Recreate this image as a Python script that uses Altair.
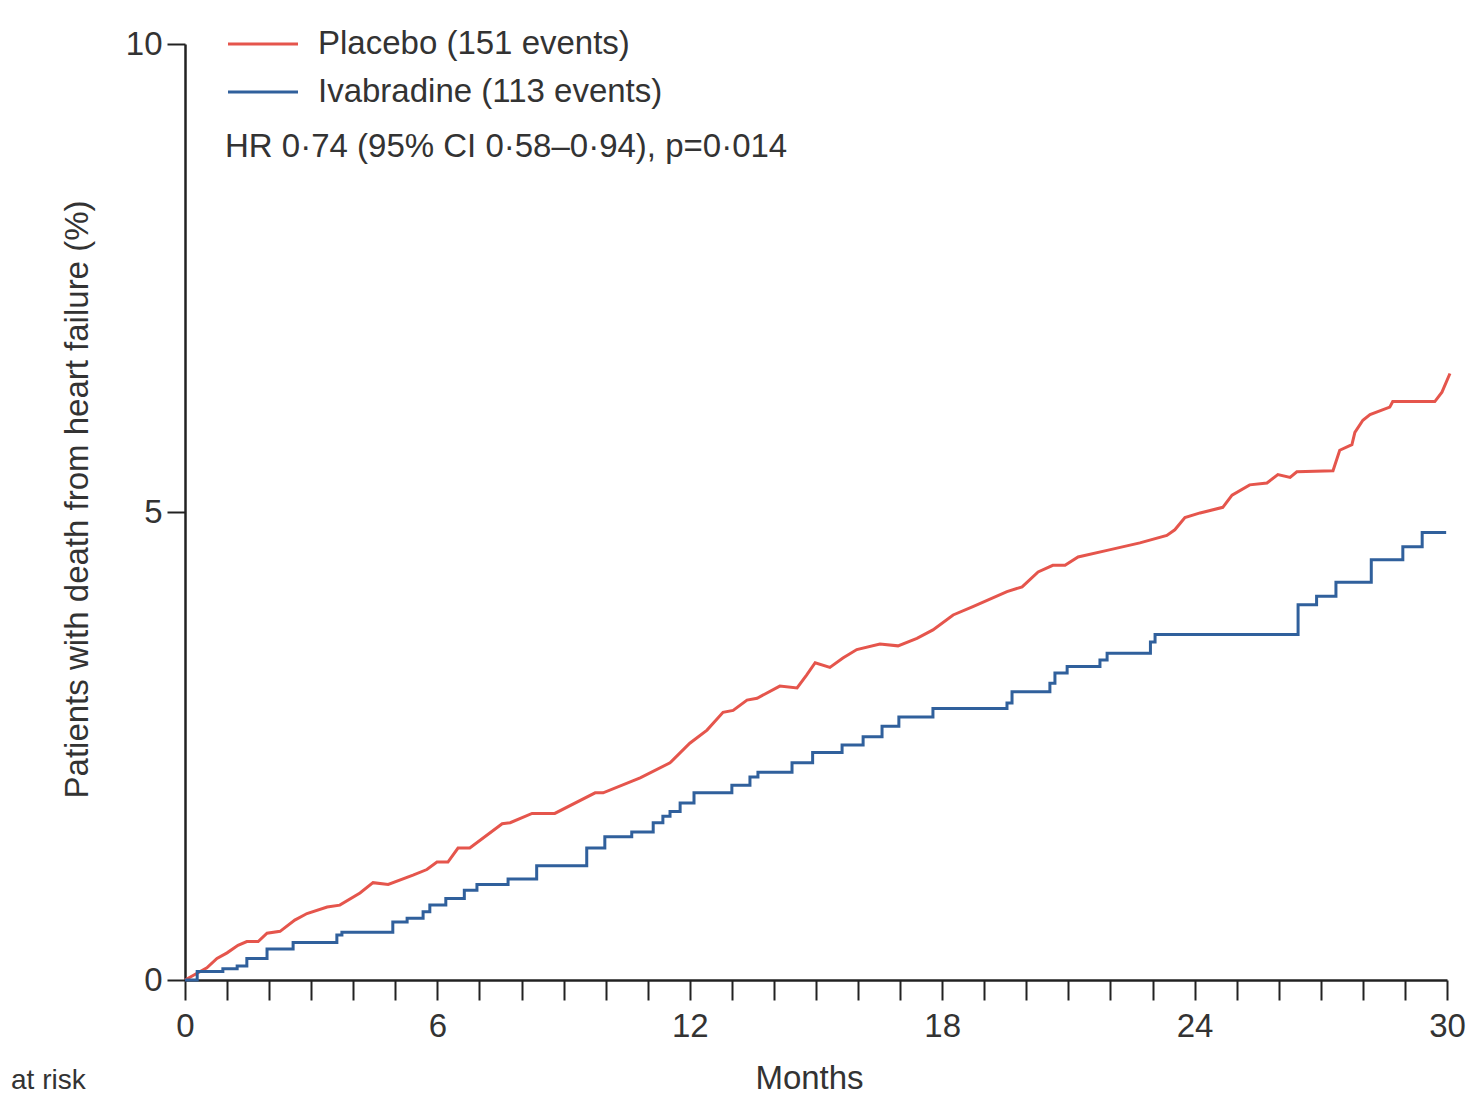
import altair as alt
import pandas as pd

# ---- data ----
placebo_months = [0.00, 0.52, 0.76, 1.00, 1.26, 1.47, 1.74, 1.95, 2.26, 2.61, 2.90, 3.38, 3.68,
                  4.16, 4.47, 4.83, 5.42, 5.75, 5.99, 6.25, 6.49, 6.77, 7.54, 7.73, 8.25, 8.79,
                  9.75, 9.94, 10.82, 11.53, 12.00, 12.41, 12.79, 13.03, 13.36, 13.60, 14.14,
                  14.55, 14.78, 14.98, 15.33, 15.64, 15.97, 16.52, 16.95, 17.40, 17.78, 18.26,
                  18.73, 19.54, 19.90, 20.28, 20.63, 20.92, 21.23, 21.92, 22.70, 23.34, 23.53,
                  23.77, 24.13, 24.67, 24.89, 25.31, 25.72, 25.98, 26.27, 26.43, 27.29, 27.45,
                  27.74, 27.81, 28.00, 28.17, 28.64, 28.71, 29.71, 29.88, 30.07]
placebo_pct = [0.00, 0.13, 0.23, 0.29, 0.37, 0.41, 0.41, 0.50, 0.52, 0.64, 0.71, 0.78, 0.80,
               0.93, 1.04, 1.02, 1.12, 1.18, 1.26, 1.26, 1.41, 1.41, 1.67, 1.68, 1.78, 1.78,
               2.00, 2.00, 2.16, 2.32, 2.53, 2.67, 2.86, 2.88, 2.99, 3.01, 3.14,
               3.12, 3.26, 3.39, 3.34, 3.44, 3.53, 3.59, 3.57, 3.65, 3.74, 3.90,
               3.99, 4.15, 4.20, 4.36, 4.43, 4.43, 4.52, 4.59, 4.67, 4.75, 4.81,
               4.94, 4.99, 5.05, 5.18, 5.29, 5.31, 5.40, 5.37, 5.43, 5.44, 5.66,
               5.72, 5.85, 5.98, 6.04, 6.12, 6.18, 6.18, 6.28, 6.48]

ivabradine_months = [0.00, 0.29, 0.90, 1.24, 1.47, 1.95, 2.57, 3.61, 3.73, 4.94, 5.28, 5.66,
                     5.82, 6.20, 6.64, 6.94, 7.68, 8.36, 9.55, 9.98, 10.62, 11.13, 11.36,
                     11.53, 11.77, 12.10, 13.00, 13.43, 13.62, 14.43, 14.92, 15.62, 16.12,
                     16.57, 16.97, 17.78, 19.54, 19.66, 20.56, 20.68, 20.97, 21.75, 21.92,
                     22.95, 23.06, 26.46, 26.90, 27.36, 28.20, 28.95, 29.41, 29.98]
ivabradine_pct = [0.00, 0.09, 0.12, 0.15, 0.23, 0.33, 0.40, 0.48, 0.51, 0.62, 0.66, 0.73,
                  0.80, 0.87, 0.96, 1.02, 1.08, 1.22, 1.41, 1.53, 1.58, 1.68, 1.75,
                  1.80, 1.89, 2.00, 2.08, 2.17, 2.22, 2.32, 2.43, 2.51, 2.60,
                  2.71, 2.81, 2.90, 2.96, 3.08, 3.17, 3.28, 3.35, 3.42, 3.49,
                  3.61, 3.69, 4.01, 4.10, 4.25, 4.49, 4.63, 4.78, 4.78]

legend_labels = ["Placebo (151 events)", "Ivabradine (113 events)"]
hr_text = ["HR 0·74 (95% CI 0·58–0·94), p=0·014"]
risk_text = ["at risk"]
x_ticks = list(range(0, 31))
y_ticks = [0, 5, 10]

RED = "#e5554c"
BLUE = "#30609c"
INK = "#222222"
TXT = "#333333"
FONT = "Liberation Sans"
FS = 33

df_p = pd.DataFrame({"month": placebo_months, "pct": placebo_pct})
df_i = pd.DataFrame({"month": ivabradine_months, "pct": ivabradine_pct})

x_enc = alt.X(
    "month:Q",
    scale=alt.Scale(domain=[0, 30], nice=False, zero=True),
    axis=alt.Axis(
        values=x_ticks,
        labelExpr="datum.value % 6 == 0 ? datum.label : ''",
        tickSize=20, tickWidth=2, tickColor=INK,
        domainColor=INK, domainWidth=2.5,
        labelFontSize=FS, labelColor=TXT, labelPadding=10, labelFlush=False,
        grid=False, title="Months", titleFontSize=FS, titleFontWeight="normal",
        titleColor=TXT, titleX=624, titleY=98, titleBaseline="middle",
        titleAlign="center",
    ),
)
y_enc = alt.Y(
    "pct:Q",
    scale=alt.Scale(domain=[0, 10], nice=False),
    axis=alt.Axis(
        values=y_ticks, format="d",
        tickSize=18, tickWidth=2, tickColor=INK,
        domainColor=INK, domainWidth=2.5,
        labelFontSize=FS, labelColor=TXT, labelPadding=5,
        grid=False, title="Patients with death from heart failure (%)",
        titleFontSize=FS, titleFontWeight="normal", titleColor=TXT,
        titleX=-108, titleY=455, titleAngle=-90, titleBaseline="middle",
        titleAlign="center",
    ),
)

placebo = alt.Chart(df_p).mark_line(color=RED, strokeWidth=3, interpolate="linear").encode(
    x=x_enc, y=y_enc
)
ivabradine = alt.Chart(df_i).mark_line(color=BLUE, strokeWidth=3, interpolate="step-after").encode(
    x="month:Q", y="pct:Q"
)

leg_df0 = pd.DataFrame({"label": [legend_labels[0]]})
leg_df1 = pd.DataFrame({"label": [legend_labels[1]]})
hr_df = pd.DataFrame({"label": hr_text})
risk_df = pd.DataFrame({"label": risk_text})

leg_rule0 = alt.Chart(leg_df0).mark_rule(color=RED, strokeWidth=3).encode(
    x=alt.value(43), x2=alt.value(113), y=alt.value(0)
)
leg_rule1 = alt.Chart(leg_df1).mark_rule(color=BLUE, strokeWidth=3).encode(
    x=alt.value(43), x2=alt.value(113), y=alt.value(48)
)
leg_text0 = alt.Chart(leg_df0).mark_text(
    align="left", baseline="middle", fontSize=FS, color=TXT, font=FONT
).encode(x=alt.value(133), y=alt.value(0), text="label:N")
leg_text1 = alt.Chart(leg_df1).mark_text(
    align="left", baseline="middle", fontSize=FS, color=TXT, font=FONT
).encode(x=alt.value(133), y=alt.value(48), text="label:N")
hr = alt.Chart(hr_df).mark_text(
    align="left", baseline="middle", fontSize=FS, color=TXT, font=FONT
).encode(x=alt.value(40), y=alt.value(103), text="label:N")
risk = alt.Chart(risk_df).mark_text(
    align="left", baseline="bottom", fontSize=28, color=TXT, font=FONT
).encode(x=alt.value(-174), y=alt.value(1051), text="label:N")

chart = alt.layer(
    placebo, ivabradine, leg_rule0, leg_rule1, leg_text0, leg_text1, hr, risk
).properties(
    width=1262, height=936,
    autosize=alt.AutoSizeParams(type="none"),
    padding={"left": 177, "top": 36, "right": 19, "bottom": 117},
    background="white",
).configure(font=FONT).configure_view(stroke=None)

chart.save("out.html", embed_options={"renderer": "svg", "actions": False})
